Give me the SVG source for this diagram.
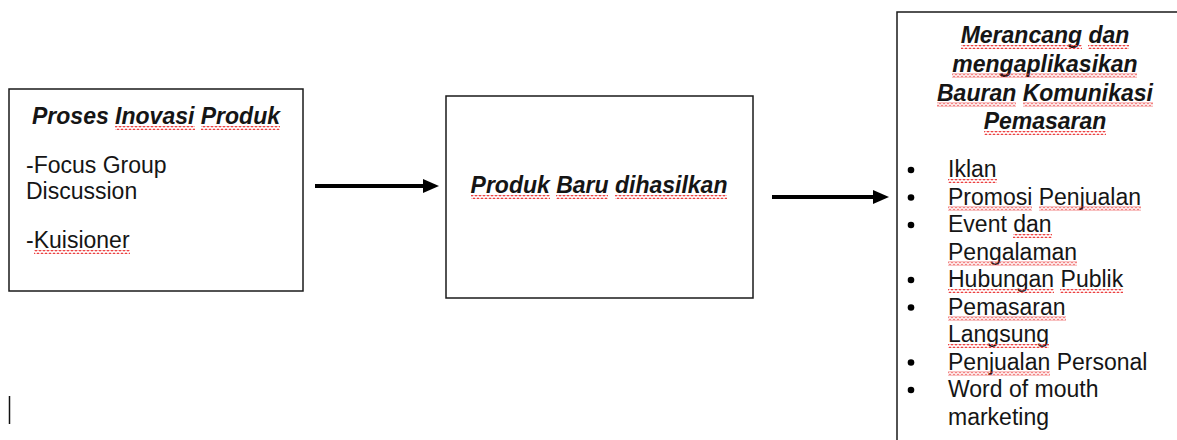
<svg xmlns="http://www.w3.org/2000/svg" width="1177" height="440" viewBox="0 0 1177 440">
  <style>
    .box { fill: #ffffff; stroke: #1a1a1a; stroke-width: 1.5; }
    .t { font-family: "Liberation Sans", Arial, sans-serif; font-size: 23px; fill: #151515; }
    .bi { font-weight: bold; font-style: italic; }
    .c { text-anchor: middle; }
    .conn { stroke: #000000; stroke-width: 4; fill: none; }
    .sq { fill: url(#squiggle); }
    .dot { fill: #000000; }
  </style>
  <defs>
    <pattern id="squiggle" patternUnits="userSpaceOnUse" x="0" y="0" width="4" height="4">
      <path d="M-1,2 L0,3 L2,1 L4,3 L5,2" fill="none" stroke="#ec3b3b" stroke-width="1.2"/>
    </pattern>
    <marker id="arrow" markerUnits="userSpaceOnUse" markerWidth="16" markerHeight="14" refX="1" refY="7" orient="auto">
      <path d="M0,0 L16,7 L0,14 Z" fill="#000000"/>
    </marker>
  </defs>

  <rect x="0" y="0" width="1177" height="440" fill="#ffffff"/>

  <g id="node-proses">
    <rect class="box" x="9" y="89" width="294" height="202"/>
    <text class="t bi c" x="156" y="124">Proses Inovasi Produk</text>
    <g transform="translate(0,124)">
      <rect class="sq" x="115" y="2" width="80" height="4"/>
      <rect class="sq" x="201" y="2" width="79" height="4"/>
    </g>
    <text class="t" x="26" y="173">-Focus Group</text>
    <text class="t" x="26" y="199">Discussion</text>
    <text class="t" x="26" y="248">-Kuisioner</text>
    <g transform="translate(0,248)">
      <rect class="sq" x="34" y="2" width="96" height="4"/>
    </g>
  </g>

  <g id="node-produk">
    <rect class="box" x="446" y="96" width="307" height="202"/>
    <text class="t bi c" x="599" y="193">Produk Baru dihasilkan</text>
    <g transform="translate(0,193)">
      <rect class="sq" x="471" y="2" width="79" height="4"/>
      <rect class="sq" x="556" y="2" width="52" height="4"/>
      <rect class="sq" x="615" y="2" width="112" height="4"/>
    </g>
  </g>

  <g id="node-bauran">
    <rect class="box" x="897" y="12" width="300" height="440"/>
    <text class="t bi c" x="1045" y="43">Merancang dan</text>
    <text class="t bi c" x="1045" y="71.5">mengaplikasikan</text>
    <text class="t bi c" x="1045" y="100.5">Bauran Komunikasi</text>
    <text class="t bi c" x="1045" y="129">Pemasaran</text>
    <g transform="translate(0,43)">
      <rect class="sq" x="961" y="2" width="121" height="4"/>
      <rect class="sq" x="1088" y="2" width="41" height="4"/>
    </g>
    <g transform="translate(0,71.5)">
      <rect class="sq" x="952" y="2" width="185" height="4"/>
    </g>
    <g transform="translate(0,100.5)">
      <rect class="sq" x="937" y="2" width="79" height="4"/>
      <rect class="sq" x="1023" y="2" width="130" height="4"/>
    </g>
    <g transform="translate(0,129)">
      <rect class="sq" x="984" y="2" width="122" height="4"/>
    </g>

    <g id="bullets">
      <circle class="dot" cx="911" cy="170" r="3.3"/>
      <circle class="dot" cx="911" cy="197.5" r="3.3"/>
      <circle class="dot" cx="911" cy="225" r="3.3"/>
      <circle class="dot" cx="911" cy="280" r="3.3"/>
      <circle class="dot" cx="911" cy="307.5" r="3.3"/>
      <circle class="dot" cx="911" cy="362.5" r="3.3"/>
      <circle class="dot" cx="911" cy="390" r="3.3"/>
    </g>
    <text class="t" x="948" y="177">Iklan</text>
    <text class="t" x="948" y="204.5">Promosi Penjualan</text>
    <text class="t" x="948" y="232">Event dan</text>
    <text class="t" x="948" y="259.5">Pengalaman</text>
    <text class="t" x="948" y="287">Hubungan Publik</text>
    <text class="t" x="948" y="314.5">Pemasaran</text>
    <text class="t" x="948" y="342">Langsung</text>
    <text class="t" x="948" y="369.5">Penjualan Personal</text>
    <text class="t" x="948" y="397">Word of mouth</text>
    <text class="t" x="948" y="424.5">marketing</text>
    <g transform="translate(0,177)"><rect class="sq" x="948" y="2" width="49" height="4"/></g>
    <g transform="translate(0,204.5)">
      <rect class="sq" x="948" y="2" width="84" height="4"/>
      <rect class="sq" x="1039" y="2" width="102" height="4"/>
    </g>
    <g transform="translate(0,232)"><rect class="sq" x="1013" y="2" width="39" height="4"/></g>
    <g transform="translate(0,259.5)"><rect class="sq" x="948" y="2" width="129" height="4"/></g>
    <g transform="translate(0,287)">
      <rect class="sq" x="948" y="2" width="106" height="4"/>
      <rect class="sq" x="1060" y="2" width="63" height="4"/>
    </g>
    <g transform="translate(0,314.5)"><rect class="sq" x="948" y="2" width="118" height="4"/></g>
    <g transform="translate(0,342)"><rect class="sq" x="948" y="2" width="101" height="4"/></g>
    <g transform="translate(0,369.5)"><rect class="sq" x="948" y="2" width="102" height="4"/></g>
  </g>

  <g id="connectors">
    <line class="conn" x1="315" y1="186" x2="424" y2="186" marker-end="url(#arrow)"/>
    <line class="conn" x1="772" y1="197" x2="874" y2="197" marker-end="url(#arrow)"/>
  </g>

  <line x1="9.5" y1="396" x2="9.5" y2="424" stroke="#111111" stroke-width="1.5"/>
</svg>
